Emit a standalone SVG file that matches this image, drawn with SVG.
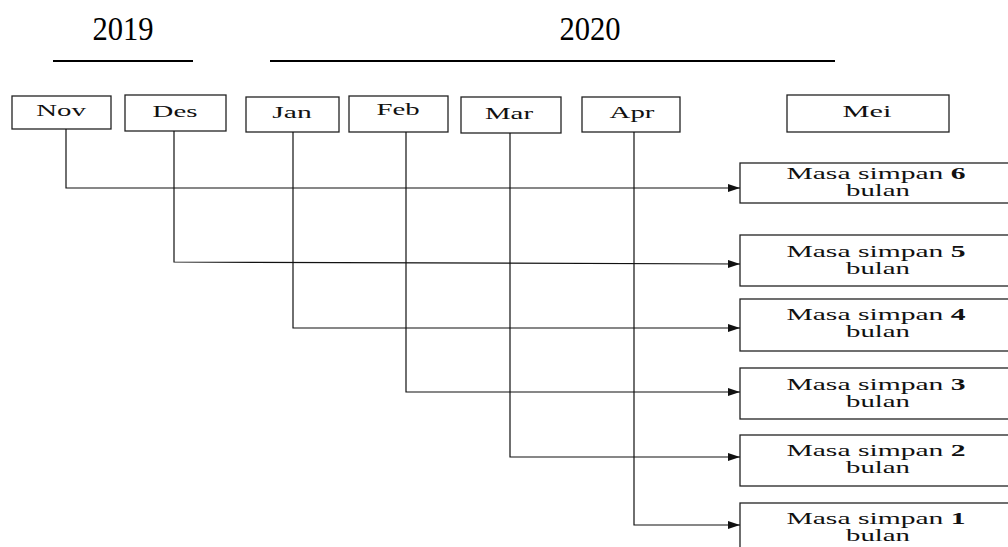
<svg xmlns="http://www.w3.org/2000/svg" width="1008" height="547" viewBox="0 0 1008 547">
<style>
.box{fill:#fff;stroke:#222;stroke-width:1.3}
.t{font-family:"Liberation Serif","Times New Roman",serif;font-size:16px;fill:#111;text-anchor:middle}
.yr{font-family:"Liberation Serif","Times New Roman",serif;font-size:34px;fill:#000;text-anchor:middle}
.yl{stroke:#000;stroke-width:2}
.c{fill:none;stroke:#111;stroke-width:1.2}
</style>
<defs>
<marker id="ah" markerWidth="12" markerHeight="8" refX="12" refY="4" orient="auto" markerUnits="userSpaceOnUse">
<path d="M0,0 L12,4 L0,8 Z" fill="#111"/>
</marker>
</defs>
<g id="year2019">
<text class="yr" transform="translate(123,40) scale(0.9,1)">2019</text>
<line class="yl" x1="53" y1="61" x2="193" y2="61"/>
</g>
<g id="year2020">
<text class="yr" transform="translate(590,40) scale(0.9,1)">2020</text>
<line class="yl" x1="270" y1="61" x2="835" y2="61"/>
</g>
<g id="nov"><rect class="box" x="12" y="96" width="99" height="33"/><text class="t" transform="translate(61,116) scale(1.8,1)">Nov</text></g>
<g id="des"><rect class="box" x="125" y="95" width="101" height="36"/><text class="t" transform="translate(175,117) scale(1.8,1)">Des</text></g>
<g id="jan"><rect class="box" x="246" y="97" width="93" height="35"/><text class="t" transform="translate(292,118) scale(1.85,1)">Jan</text></g>
<g id="feb"><rect class="box" x="349" y="96" width="99" height="36"/><text class="t" transform="translate(398,115) scale(1.8,1)">Feb</text></g>
<g id="mar"><rect class="box" x="461" y="97" width="100" height="36"/><text class="t" transform="translate(509,119) scale(1.8,1)">Mar</text></g>
<g id="apr"><rect class="box" x="582" y="97" width="98" height="35"/><text class="t" transform="translate(632,118) scale(1.8,1)">Apr</text></g>
<g id="mei"><rect class="box" x="787" y="95" width="162" height="37"/><text class="t" transform="translate(867,117) scale(1.9,1)">Mei</text></g>
<g id="m6"><rect class="box" x="740" y="163" width="280" height="40"/><text class="t" transform="translate(876,179) scale(1.85,1)">Masa simpan <tspan font-weight="bold">6</tspan></text><text class="t" transform="translate(878,196) scale(1.8,1)">bulan</text></g>
<g id="m5"><rect class="box" x="740" y="235" width="280" height="51"/><text class="t" transform="translate(876,257) scale(1.85,1)">Masa simpan <tspan font-weight="bold">5</tspan></text><text class="t" transform="translate(878,274) scale(1.8,1)">bulan</text></g>
<g id="m4"><rect class="box" x="740" y="299" width="280" height="52"/><text class="t" transform="translate(876,320) scale(1.85,1)">Masa simpan <tspan font-weight="bold">4</tspan></text><text class="t" transform="translate(878,337) scale(1.8,1)">bulan</text></g>
<g id="m3"><rect class="box" x="740" y="368" width="280" height="51"/><text class="t" transform="translate(876,390) scale(1.85,1)">Masa simpan <tspan font-weight="bold">3</tspan></text><text class="t" transform="translate(878,407) scale(1.8,1)">bulan</text></g>
<g id="m2"><rect class="box" x="740" y="435" width="280" height="51"/><text class="t" transform="translate(876,456) scale(1.85,1)">Masa simpan <tspan font-weight="bold">2</tspan></text><text class="t" transform="translate(878,473) scale(1.8,1)">bulan</text></g>
<g id="m1"><rect class="box" x="740" y="503" width="280" height="60"/><text class="t" transform="translate(876,524) scale(1.85,1)">Masa simpan <tspan font-weight="bold">1</tspan></text><text class="t" transform="translate(878,541) scale(1.8,1)">bulan</text></g>
<g id="connectors">
<path class="c" d="M66,129 V188 H740" marker-end="url(#ah)"/>
<path class="c" d="M174,131 V262 L740,264" marker-end="url(#ah)"/>
<path class="c" d="M293,132 V328 H740" marker-end="url(#ah)"/>
<path class="c" d="M406,132 V392 H740" marker-end="url(#ah)"/>
<path class="c" d="M510,133 V457 H740" marker-end="url(#ah)"/>
<path class="c" d="M634,132 V525 H740" marker-end="url(#ah)"/>
</g>
</svg>
